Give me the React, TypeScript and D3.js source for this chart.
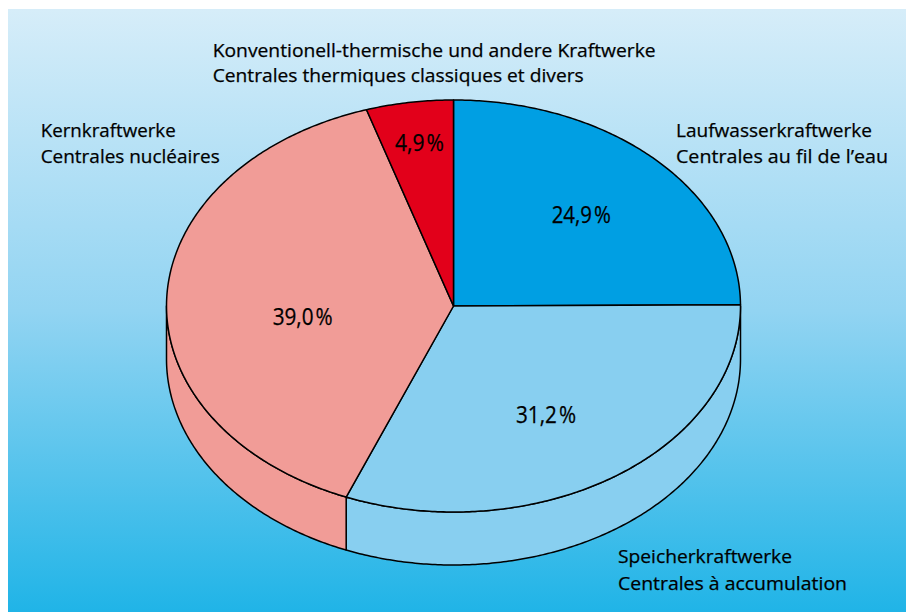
import React from "react";
import * as d3 from "d3";

const categoriesDE = ["Laufwasserkraftwerke", "Speicherkraftwerke", "Kernkraftwerke", "Konventionell-thermische und andere Kraftwerke"];
const categoriesFR = ["Centrales au fil de l\u2019eau", "Centrales à accumulation", "Centrales nucléaires", "Centrales thermiques classiques et divers"];
const shares = [24.9, 31.2, 39.0, 4.9];
const sliceColors = ["#009fe3", "#88cff0", "#f19c97", "#e2001a"];

// layout (not data)
const W = 906, H = 612;
const CX = 453.5, CY = 306, RX = 287, RY = 206, DEPTH = 53;
const catLayout = [
  { x: 676, y1: 137.3, y2: 163.3, w1: 196, w2: 212 },
  { x: 618, y1: 563, y2: 590, w1: 174, w2: 229 },
  { x: 40.7, y1: 137, y2: 163, w1: 135, w2: 179 },
  { x: 212.7, y1: 57.4, y2: 82.4, w1: 443, w2: 371 },
];
const pctLayout = [
  { x: 551.7, y: 223.3, w: 59.3 },
  { x: 516, y: 423.3, w: 60 },
  { x: 272.7, y: 325, w: 60 },
  { x: 395, y: 150.7, w: 49 },
];

const ex = (a: number, r = 1) => CX + RX * r * Math.sin(a);
const ey = (a: number, r = 1, dy = 0) => CY + dy - RY * r * Math.cos(a);

function arcPts(a0: number, a1: number, dy = 0): [number, number][] {
  const n = Math.max(2, Math.ceil(Math.abs(a1 - a0) / 0.01));
  return d3.range(n + 1).map((i) => {
    const a = a0 + ((a1 - a0) * i) / n;
    return [ex(a), ey(a, 1, dy)] as [number, number];
  });
}

const line = d3.line();

export default function App() {
  const arcs = d3.pie<number>().sort(null).startAngle(0).endAngle(2 * Math.PI)(shares);
  const fmt = (v: number) => d3.format(".1f")(v).replace(".", ",") + "\u200a%";

  return (
    <svg width={W} height={H} style={{ position: "absolute", left: 0, top: 0 }}>
      <defs>
        <linearGradient id="bg" x1="0" y1="0" x2="0" y2="1">
          <stop offset="0" stopColor="#d6edf9" />
          <stop offset="0.5" stopColor="#92d4f2" />
          <stop offset="1" stopColor="#20b4e7" />
        </linearGradient>
      </defs>
      <rect x={8} y={9} width={W - 8} height={H - 9} fill="url(#bg)" />
      {/* side walls */}
      {arcs.map((a, i) => {
        const s = Math.max(a.startAngle, Math.PI / 2);
        const e = Math.min(a.endAngle, (3 * Math.PI) / 2);
        if (e <= s) return null;
        const pts = [...arcPts(s, e), ...arcPts(e, s, DEPTH)];
        return (
          <path key={"s" + i} d={line(pts) + "Z"} fill={sliceColors[i]} stroke="#000" strokeWidth={1.5} strokeLinejoin="round" />
        );
      })}
      {/* top faces */}
      {arcs.map((a, i) => {
        const pts: [number, number][] = [[CX, CY], ...arcPts(a.startAngle, a.endAngle)];
        return (
          <path key={"t" + i} d={line(pts) + "Z"} fill={sliceColors[i]} stroke="#000" strokeWidth={1.5} strokeLinejoin="round" />
        );
      })}
      {/* percentage labels */}
      {arcs.map((a, i) => (
        <text key={"p" + i} x={pctLayout[i].x} y={pctLayout[i].y} fontFamily="'Open Sans', sans-serif" fontSize={23}
          fill="#000" stroke="#000" strokeWidth={0.25} textLength={pctLayout[i].w} lengthAdjust="spacingAndGlyphs">
          {fmt(a.data)}
        </text>
      ))}
      {/* category labels */}
      {categoriesDE.map((c, i) => (
        <g key={"c" + i} fontFamily="'Open Sans', sans-serif" fontSize={19} fill="#000" stroke="#000" strokeWidth={0.25}>
          <text x={catLayout[i].x} y={catLayout[i].y1} textLength={catLayout[i].w1} lengthAdjust="spacingAndGlyphs">{c}</text>
          <text x={catLayout[i].x} y={catLayout[i].y2} textLength={catLayout[i].w2} lengthAdjust="spacingAndGlyphs">{categoriesFR[i]}</text>
        </g>
      ))}
    </svg>
  );
}
